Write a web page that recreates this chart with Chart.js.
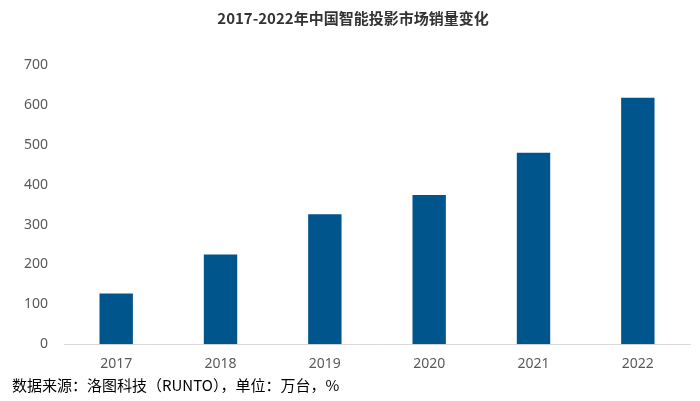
<!DOCTYPE html>
<html><head><meta charset="utf-8">
<script src="https://cdn.jsdelivr.net/npm/chart.js@4"></script>
<style>html,body{margin:0;padding:0;background:#fff}#w{width:700px;height:401px;position:relative}
#src{position:absolute;left:12px;top:374px;font:15px "Noto Sans CJK SC";color:#000}</style>
</head><body><div id="w"><canvas id="c" width="700" height="375"></canvas><div id="src">数据来源：洛图科技（RUNTO），单位：万台，%</div></div>
<script>
const categories=["2017","2018","2019","2020","2021","2022"];
const sales=[127,225,326,374,480,618];
const yTicks=[0,100,200,300,400,500,600,700];
new Chart(document.getElementById('c'),{type:'bar',
data:{labels:categories,datasets:[{data:sales,backgroundColor:'#00558C',barPercentage:0.64,categoryPercentage:0.5}]},
options:{responsive:false,animation:false,
layout:{padding:{left:16,right:10,top:0,bottom:0}},
plugins:{legend:{display:false},tooltip:{enabled:false},
title:{display:true,text:'2017-2022年中国智能投影市场销量变化',font:{family:'Noto Sans CJK SC',size:15,weight:'bold'},color:'#333',padding:{top:9,bottom:38}}},
scales:{y:{min:0,max:700,afterBuildTicks:s=>{s.ticks=yTicks.map(v=>({value:v}))},grid:{display:false},border:{display:false},
ticks:{color:'#595959',font:{family:'Noto Sans',size:14},padding:8}},
x:{grid:{display:false},border:{color:'#d9d9d9'},ticks:{color:'#595959',font:{family:'Noto Sans',size:14}}}}}});
</script></body></html>
